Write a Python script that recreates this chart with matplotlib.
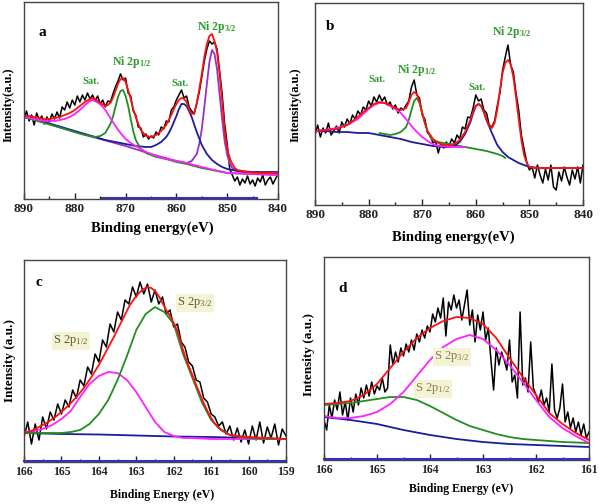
import numpy as np
import matplotlib
matplotlib.use("Agg")
import matplotlib.pyplot as plt
from matplotlib.ticker import MultipleLocator

plt.rcParams['font.family'] = ['Liberation Serif', 'DejaVu Serif']
plt.rcParams['font.weight'] = 'bold'
plt.rcParams['mathtext.default'] = 'regular'

# ---------------- data (intensity in arbitrary units) ----------------
# Panel a : Ni 2p
a_raw = [80, 88, 78, 84, 74, 86, 79, 83, 75, 82, 77, 85, 80, 87, 81, 92, 89, 97, 91, 99,
         94, 103, 97, 104, 99, 106, 100, 104, 98, 103, 95, 99, 92, 98, 97, 105, 112, 118, 125, 119,
         121, 106, 103, 88, 84, 72, 71, 62, 65, 60, 63, 61, 67, 64, 72, 70, 78, 77, 89, 92,
         99, 104, 109, 101, 103, 92, 88, 85, 96, 107, 122, 138, 150, 158, 155, 157, 150, 128, 105, 75,
         55, 30, 24, 18, 22, 14, 20, 16, 23, 15, 19, 13, 21, 17, 24, 14, 19, 22, 15, 20, 25]
a_env = [(890, 83), (889, 83), (888, 82), (887, 81), (886, 80), (885, 80), (884, 81), (883, 82),
         (882, 84), (881, 86), (880, 89), (879, 93), (878, 97), (877, 100), (876.5, 101), (876, 100),
         (875, 96), (874, 93), (873.5, 94), (873, 96), (872.5, 101), (872, 108), (871.5, 115), (871, 120),
         (870.5, 121), (870, 117), (869.5, 109), (869, 100), (868.5, 90), (868, 82), (867.5, 75), (867, 69),
         (866, 63), (865, 62), (864, 64), (863, 68), (862, 74), (861.5, 79), (861, 84), (860.5, 90),
         (860, 95), (859.5, 99), (859, 101), (858.5, 100), (858, 97), (857.5, 90), (857, 85), (856.5, 86),
         (856, 95), (855.5, 110), (855, 125), (854.5, 142), (854, 155), (853.5, 163), (853, 165), (852.5, 158),
         (852, 147), (851.5, 125), (851, 98), (850.5, 68), (850, 50), (849.5, 41), (849, 35), (848.5, 31),
         (848, 29), (847, 28), (846, 27), (844, 26), (840, 26)]
a_sat1 = [(890, 82), (888, 80), (886, 78), (884, 78), (882, 80), (881, 82), (880, 85), (879, 89),
          (878, 94), (877, 98), (876.5, 99), (876, 98), (875, 95), (874, 89), (873, 81), (872, 73),
          (871, 66), (870, 60), (869, 56), (868, 53), (867, 50), (866, 47), (865, 45), (864, 43),
          (862, 40), (860, 38), (858, 36), (855, 32), (850, 26), (845, 25), (840, 24)]
a_p12 = [(890, 82), (888, 79), (886, 76), (884, 73), (882, 70), (880, 67), (878, 64), (877, 63),
         (876, 62), (875, 63), (874, 66), (873, 75), (872.5, 82), (872, 92), (871.5, 102), (871, 108),
         (870.5, 109), (870, 103), (869.5, 93), (869, 80), (868.5, 68), (868, 59), (867, 50), (866, 46),
         (865, 44), (864, 42), (862, 40), (860, 37), (858, 35), (855, 31), (852, 28), (850, 26),
         (845, 25), (840, 24)]
a_sat2 = [(890, 82), (888, 80), (886, 77), (884, 74), (882, 71), (880, 68), (878, 65), (876, 62),
          (874, 59), (872, 57), (870, 55), (868, 53), (866, 52), (865, 52), (864, 54), (863, 57),
          (862, 62), (861.5, 66), (861, 71), (860.5, 77), (860, 83), (859.5, 90), (859, 95), (858.5, 95),
          (858, 93), (857.5, 88), (857, 82), (856, 67), (855, 54), (854, 45), (853, 39), (852, 35),
          (851, 32), (850, 30), (848, 28), (845, 27), (840, 27)]
a_p32 = [(890, 82), (885, 75), (880, 67), (875, 60), (870, 53), (865, 45), (860, 38), (858, 36),
         (857, 38), (856, 45), (855.5, 55), (855, 70), (854.5, 92), (854, 115), (853.5, 137), (853, 149),
         (852.5, 145), (852, 130), (851.5, 105), (851, 80), (850.5, 58), (850, 44), (849.5, 36), (849, 31),
         (848, 28), (847, 27), (845, 26), (840, 25)]

# Panel b : Ni 2p
b_raw = [70, 80, 68, 77, 72, 82, 70, 74, 79, 72, 83, 78, 86, 81, 90, 86, 94, 90, 98, 95,
         104, 99, 108, 103, 110, 104, 108, 100, 103, 96, 100, 92, 97, 95, 100, 104, 118, 125, 110, 107,
         90, 86, 72, 70, 62, 64, 52, 62, 57, 63, 59, 66, 62, 70, 66, 78, 76, 88, 87, 97,
         110, 104, 106, 95, 92, 80, 78, 84, 99, 112, 135, 148, 160, 140, 133, 112, 95, 70, 56, 43,
         35, 38, 27, 40, 30, 22, 36, 25, 40, 18, 15, 33, 24, 38, 28, 20, 35, 26, 38, 22, 40]
b_env = [(890, 74), (888, 75), (886, 76), (885, 78), (884, 80), (883, 84), (882, 88), (881, 93),
         (880, 97), (879, 101), (878, 103), (877, 102), (876, 100), (875, 97), (874, 95), (873, 97),
         (872.5, 103), (872, 110), (871.5, 113), (871, 111), (870.5, 103), (870, 92), (869.5, 82), (869, 74),
         (868, 66), (867, 62), (866, 60), (865, 60), (864, 61), (863, 65), (862, 73), (861, 85),
         (860.5, 93), (860, 99), (859.5, 101), (859, 99), (858.5, 93), (858, 85), (857.5, 79), (857, 77),
         (856.5, 82), (856, 95), (855.5, 115), (855, 132), (854.5, 142), (854, 145), (853.5, 141), (853, 128),
         (852.5, 108), (852, 86), (851.5, 65), (851, 50), (850.5, 42), (850, 38), (849, 37), (840, 37)]
b_sat1 = [(890, 74), (888, 75), (886, 77), (884, 80), (882, 86), (881, 91), (880, 96), (879, 100),
          (878, 102), (877, 102), (876, 99), (875, 96), (874, 92), (873, 86), (872, 79), (871, 73),
          (870, 68), (869, 64), (868, 61), (867, 59), (866, 59), (865, 58), (863, 58), (862, 58)]
b_p12 = [(878, 72), (877, 71), (876, 70), (875, 71), (874, 73), (873, 78), (872.5, 85), (872, 95),
         (871.5, 104), (871, 107), (870.5, 102), (870, 92), (869.5, 82), (869, 74), (868.5, 68), (868, 65),
         (867, 63), (866, 62), (864, 60), (862, 58), (860, 56), (858, 54), (856, 51), (855, 49),
         (854.5, 47)]
b_sat2 = [(890, 74), (888, 74), (886, 73), (884, 73), (882, 72), (880, 72), (878, 70), (876, 68),
          (874, 66), (872, 63), (870, 61), (868, 59), (866, 58), (865, 58), (864, 59), (863, 63),
          (862, 71), (861, 83), (860.5, 92), (860, 99), (859.5, 101), (859, 99), (858.5, 93), (858, 85),
          (857, 72), (856, 60), (855, 53), (854, 48), (853, 45), (852, 42), (851, 40), (850, 38),
          (848, 37), (840, 37)]

# Panel c : S 2p (sample 1)
c_raw = [25, 40, 18, 38, 22, 45, 33, 50, 42, 58, 48, 62, 55, 72, 64, 82, 76, 95, 88, 108,
         100, 122, 115, 138, 130, 150, 142, 162, 158, 175, 165, 180, 168, 178, 160, 172, 158, 165, 148, 152,
         135, 138, 120, 115, 100, 96, 82, 80, 64, 60, 48, 45, 36, 40, 28, 36, 22, 34, 20, 32,
         18, 36, 22, 40, 19, 35, 24, 38, 17, 33, 26]
c_env = [(166, 29), (165.8, 31), (165.6, 35), (165.4, 39), (165.2, 44), (165, 50), (164.8, 57),
         (164.6, 65), (164.4, 74), (164.2, 85), (164, 97), (163.8, 111), (163.6, 125), (163.4, 140),
         (163.2, 155), (163.1, 161), (163, 166), (162.9, 170), (162.8, 173), (162.7, 175), (162.6, 174),
         (162.5, 171), (162.4, 166), (162.3, 159), (162.2, 152), (162.1, 146), (162, 139), (161.9, 131),
         (161.8, 118), (161.7, 106), (161.6, 96), (161.5, 87), (161.4, 77), (161.3, 68), (161.2, 59),
         (161.1, 51), (161, 44), (160.9, 38), (160.8, 34), (160.7, 31), (160.6, 29), (160.5, 27),
         (160.3, 26), (160, 25), (159.5, 24), (159, 23)]
c_p12 = [(166, 30), (165.75, 31), (165.5, 33), (165.25, 37), (165, 43), (164.75, 51), (164.5, 65),
         (164.25, 78), (164, 86), (163.75, 90), (163.5, 89), (163.25, 82), (163, 70), (162.75, 55),
         (162.5, 40), (162.25, 30), (162, 26), (161.75, 24), (161.5, 24), (161, 23), (160, 23), (159, 23)]
c_p32 = [(166, 29), (165.5, 29), (165, 29), (164.75, 30), (164.5, 32), (164.25, 38), (164, 48),
         (163.75, 62), (163.5, 82), (163.25, 106), (163, 132), (162.75, 148), (162.5, 155), (162.25, 150),
         (162, 138), (161.75, 108), (161.5, 84), (161.25, 60), (161, 42), (160.75, 33), (160.5, 27),
         (160.25, 25), (160, 24), (159.5, 23), (159, 23)]
c_base = [(166, 29), (165, 28), (164, 27.5), (163, 26.5), (162, 25.5), (161, 25), (160, 24), (159, 23)]

# Panel d : S 2p (sample 2)
d_raw = [40, 30, 55, 42, 60, 50, 68, 45, 58, 40, 62, 48, 66, 55, 72, 62, 75, 64, 78, 66,
         74, 70, 82, 68, 72, 115, 95, 108, 98, 112, 104, 116, 108, 120, 110, 126, 118, 130, 122, 134,
         128, 146, 138, 152, 142, 162, 124, 158, 150, 165, 152, 160, 140, 155, 170, 135, 150, 118, 145, 130,
         148, 120, 132, 100, 70, 112, 95, 108, 100, 90, 120, 78, 85, 62, 148, 75, 82, 68, 118, 72,
         65, 58, 70, 55, 62, 48, 96, 50, 42, 52, 76, 38, 48, 32, 42, 28, 38, 25, 36, 22, 28]
d_env = [(166, 56), (165.75, 57), (165.5, 59), (165.25, 65), (165, 76), (164.75, 92), (164.5, 108),
         (164.25, 122), (164, 132), (163.75, 139), (163.5, 143), (163.25, 142), (163, 136), (162.75, 122),
         (162.5, 102), (162.25, 83), (162, 65), (161.75, 47), (161.5, 36), (161.25, 27), (161, 20)]
d_p32 = [(166, 44), (165.75, 42), (165.5, 42), (165.25, 44), (165, 48), (164.75, 56), (164.5, 68),
         (164.25, 84), (164, 100), (163.75, 113), (163.5, 121), (163.25, 125), (163, 121), (162.75, 110),
         (162.5, 95), (162.25, 78), (162, 60), (161.75, 43), (161.5, 32), (161.25, 24), (161, 17)]
d_p12 = [(166, 55), (165.75, 56), (165.5, 57), (165.25, 59), (165, 61), (164.75, 63), (164.5, 63),
         (164.25, 60), (164, 54), (163.75, 47), (163.5, 40), (163.25, 34), (163, 30), (162.75, 26),
         (162.5, 23), (162.25, 21), (162, 20), (161.5, 18), (161, 17)]
d_base = [(166, 43), (165.5, 40), (165, 36), (164.5, 30), (164, 25), (163.5, 21), (163, 18),
          (162.5, 16), (162, 15), (161.5, 14), (161, 13)]

# ---------------- figure ----------------
W, H = 600, 504
fig = plt.figure(figsize=(6, 5.04), dpi=100)

def px_axes(l, t, r, b):
    return fig.add_axes([l / W, 1 - b / H, (r - l) / W, (b - t) / H])

RED, MAG, GRN, BLU, PUR = '#ff1010', '#ff20ff', '#1f8f1f', '#1c1c9c', '#9b30c8'
NIGRN = '#2a9a2a'

def xy(pairs):
    return [p[0] for p in pairs], [p[1] for p in pairs]

def style(ax, x0, x1, ymax, major, minor, fs):
    ax.set_xlim(x0, x1)
    ax.set_ylim(0, ymax)
    ax.set_yticks([])
    ax.xaxis.set_major_locator(MultipleLocator(major))
    ax.xaxis.set_minor_locator(MultipleLocator(minor))
    ax.tick_params(axis='x', which='major', direction='in', length=4, width=1, pad=3, labelsize=fs,
                   colors='#222222')
    ax.tick_params(axis='x', which='minor', direction='in', length=2.5, width=1, colors='#222222')
    for lab in ax.get_xticklabels():
        lab.set_fontweight('bold')
    for s in ax.spines.values():
        s.set_color('#444444')
        s.set_linewidth(1.0)

def fit(ax, pairs, color, lw=1.3):
    x, y = xy(pairs)
    ax.plot(x, y, color=color, lw=lw, solid_capstyle='round')

# Panel a
axa = px_axes(24, 2, 278, 199)
xa = np.linspace(890, 840, len(a_raw))
axa.plot(xa, a_raw, color='black', lw=1.1)
fit(axa, a_p32, PUR)
fit(axa, a_sat2, BLU)
fit(axa, a_p12, GRN)
fit(axa, a_sat1, MAG)
fit(axa, a_env, RED)
axa.plot([874.6, 844.1], [0.6, 0.6], color='#3030d0', lw=1.5, clip_on=False)
style(axa, 890, 840, 197, 10, 5, 9.5)

# Panel b
axb = px_axes(315, 3, 583, 205)
xb = np.linspace(890, 840, len(b_raw))
axb.plot(xb, b_raw, color='black', lw=1.1)
fit(axb, b_p12, GRN)
fit(axb, b_sat2, BLU)
fit(axb, b_sat1, MAG)
fit(axb, b_env, RED)
style(axb, 890, 840, 202, 10, 5, 9.5)

# Panel c
axc = px_axes(24, 260, 286, 462)
xc = np.linspace(166, 159, len(c_raw))
axc.plot(xc, c_raw, color='black', lw=1.1)
fit(axc, c_base, BLU)
fit(axc, c_p12, MAG)
fit(axc, c_p32, GRN)
fit(axc, c_env, RED)
axc.plot([166, 159], [0.6, 0.6], color='#3030d0', lw=1.5, clip_on=False)
style(axc, 166, 159, 202, 1, 0.5, 8.5)

# Panel d
axd = px_axes(324, 257, 589, 460)
xd = np.linspace(166, 161, len(d_raw))
axd.plot(xd, d_raw, color='black', lw=1.1)
fit(axd, d_base, BLU)
fit(axd, d_p12, GRN)
fit(axd, d_p32, MAG)
fit(axd, d_env, RED)
axd.plot([166, 161], [0.6, 0.6], color='#3030d0', lw=1.5, clip_on=False)
style(axd, 166, 161, 203, 1, 0.5, 8.5)

# ---------------- texts (pixel positions) ----------------
def ftext(x, y, s, **kw):
    kw.setdefault('fontweight', 'bold')
    fig.text(x / W, 1 - y / H, s, ha='center', va='center', **kw)

ftext(152, 228, 'Binding energy(eV)', fontsize=10.5)
ftext(453, 237, 'Binding energy(eV)', fontsize=10.5)
ftext(162, 495, 'Binding Energy (eV)', fontsize=8.5)
ftext(461, 489, 'Binding Energy (eV)', fontsize=8.5)

ftext(9, 105, 'Intensity(a.u.)', fontsize=9, rotation=90)
ftext(296, 105, 'Intensity(a.u.)', fontsize=9, rotation=90)
ftext(10, 360, 'Intensity (a.u.)', fontsize=9.5, rotation=90)
ftext(309, 355, 'Intensity (a.u.)', fontsize=9.5, rotation=90)

ftext(42, 32, 'a', fontsize=11)
ftext(330, 27, 'b', fontsize=11)
ftext(39, 283, 'c', fontsize=11)
ftext(343, 288, 'd', fontsize=11)

ftext(91, 81, 'Sat.', fontsize=7.5, color=NIGRN)
ftext(132, 62, 'Ni 2p$_{1/2}$', fontsize=8.5, color=NIGRN)
ftext(180, 83, 'Sat.', fontsize=7.5, color=NIGRN)
ftext(217, 27, 'Ni 2p$_{3/2}$', fontsize=8.5, color=NIGRN)

ftext(377, 80, 'Sat.', fontsize=7.5, color=NIGRN)
ftext(417, 70, 'Ni 2p$_{1/2}$', fontsize=8.5, color=NIGRN)
ftext(477, 87, 'Sat.', fontsize=7.5, color=NIGRN)
ftext(512, 32, 'Ni 2p$_{3/2}$', fontsize=8.5, color=NIGRN)

box = dict(facecolor='#f4f4d4', edgecolor='none', pad=1.0)
ftext(71, 341, 'S 2p$_{1/2}$', fontsize=9, color='#5e5a38', bbox=box, fontweight='normal')
ftext(195, 303, 'S 2p$_{3/2}$', fontsize=9, color='#5e5a38', bbox=box, fontweight='normal')
ftext(452, 357, 'S 2p$_{3/2}$', fontsize=9, color='#8a7a4a', bbox=box, fontweight='normal')
ftext(433, 389, 'S 2p$_{1/2}$', fontsize=9, color='#8a7a4a', bbox=box, fontweight='normal')

fig.savefig('out.png', dpi=100, facecolor='white')
